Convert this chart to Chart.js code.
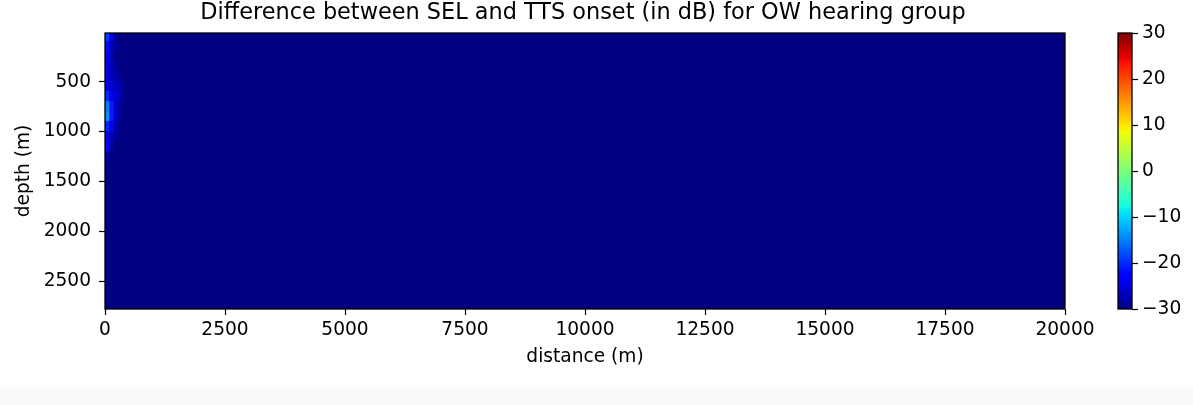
<!DOCTYPE html>
<html>
<head>
<meta charset="utf-8">
<script src="https://cdn.jsdelivr.net/npm/chart.js@4"></script>
<style>
  html, body { margin: 0; padding: 0; background: #ffffff; }
  #wrap { position: relative; width: 1193px; height: 405px; overflow: hidden; }
  #main { position: absolute; left: 0; top: 0; }
  #cbar { position: absolute; left: 1100px; top: 0; }
  #strip { position: absolute; left: 0; top: 385px; width: 1193px; height: 20px; background: #fbfaf8; }
</style>
</head>
<body>
<div id="wrap">
  <canvas id="main" width="1193" height="385"></canvas>
  <canvas id="cbar" width="93" height="385"></canvas>
  <div id="strip"></div>
</div>
<script>
// grid edges (m)
const distEdges = [0, 100, 200, 300, 400, 20000];
const depthEdges = [10, 100, 200, 300, 400, 500, 600, 700, 800, 900, 1000, 1100, 1200, 1300, 1400,
  1500, 1600, 1700, 1800, 1900, 2000, 2100, 2200, 2300, 2400, 2500, 2600, 2700, 2780];

// SEL - TTS onset (dB), one row per depth band, one column per distance band
const diffDb = [
  [-19, -24, -29, -30, -30],
  [-22, -27, -29, -30, -30],
  [-24, -27, -30, -30, -30],
  [-25, -27, -29, -30, -30],
  [-25, -27, -28, -29, -30],
  [-24, -26, -27, -28, -30],
  [-20, -24, -26, -28, -30],
  [-15, -21, -27, -29, -30],
  [-14, -21, -27, -29, -30],
  [-20, -24, -28, -30, -30],
  [-25, -27, -29, -30, -30],
  [-23, -28, -30, -30, -30],
  [-28, -30, -30, -30, -30],
  [-30, -30, -30, -30, -30],
  [-30, -30, -30, -30, -30],
  [-30, -30, -30, -30, -30],
  [-30, -30, -30, -30, -30],
  [-30, -30, -30, -30, -30],
  [-30, -30, -30, -30, -30],
  [-30, -30, -30, -30, -30],
  [-30, -30, -30, -30, -30],
  [-30, -30, -30, -30, -30],
  [-30, -30, -30, -30, -30],
  [-30, -30, -30, -30, -30],
  [-30, -30, -30, -30, -30],
  [-30, -30, -30, -30, -30],
  [-30, -30, -30, -30, -30],
  [-30, -30, -30, -30, -30]
];

const xTicks = [0, 2500, 5000, 7500, 10000, 12500, 15000, 17500, 20000];
const yTicks = [500, 1000, 1500, 2000, 2500];
const cbTicks = [-30, -20, -10, 0, 10, 20, 30];
const vmin = -30, vmax = 30;

const titleText = 'Difference between SEL and TTS onset (in dB) for OW hearing group';
const FONT = 'DejaVu Sans';

// matplotlib 'jet'
const jetR = [[0, 0], [0.35, 0], [0.66, 1], [0.89, 1], [1, 0.5]];
const jetG = [[0, 0], [0.125, 0], [0.375, 1], [0.64, 1], [0.91, 0], [1, 0]];
const jetB = [[0, 0.5], [0.11, 1], [0.34, 1], [0.65, 0], [1, 0]];

function interp(pts, t) {
  for (let i = 1; i < pts.length; i++) {
    if (t <= pts[i][0]) {
      const a = pts[i - 1], b = pts[i];
      return a[1] + (b[1] - a[1]) * (t - a[0]) / (b[0] - a[0]);
    }
  }
  return pts[pts.length - 1][1];
}

function jet(t) {
  t = Math.min(1, Math.max(0, t));
  const r = Math.round(interp(jetR, t) * 255);
  const g = Math.round(interp(jetG, t) * 255);
  const b = Math.round(interp(jetB, t) * 255);
  return 'rgb(' + r + ',' + g + ',' + b + ')';
}

function minus(v) {
  return v < 0 ? '\u2212' + Math.abs(v) : String(v);
}

const heatmapPlugin = {
  id: 'heatmap',
  beforeDatasetsDraw(chart) {
    const ctx = chart.ctx, x = chart.scales.x, y = chart.scales.y, a = chart.chartArea;
    ctx.save();
    ctx.beginPath();
    ctx.rect(a.left, a.top, a.right - a.left, a.bottom - a.top);
    ctx.clip();
    for (let i = 0; i < diffDb.length; i++) {
      const y0 = y.getPixelForValue(depthEdges[i]);
      const y1 = y.getPixelForValue(depthEdges[i + 1]);
      for (let j = 0; j < diffDb[i].length; j++) {
        const x0 = x.getPixelForValue(distEdges[j]);
        const x1 = x.getPixelForValue(distEdges[j + 1]);
        ctx.fillStyle = jet((diffDb[i][j] - vmin) / (vmax - vmin));
        ctx.fillRect(Math.floor(x0), Math.floor(Math.min(y0, y1)),
          Math.ceil(x1) - Math.floor(x0) + 1, Math.ceil(Math.abs(y1 - y0)) + 1);
      }
    }
    ctx.restore();
  },
  afterDraw(chart) {
    const ctx = chart.ctx, a = chart.chartArea;
    ctx.save();
    ctx.strokeStyle = '#000';
    ctx.lineWidth = 1.3;
    ctx.strokeRect(a.left, a.top, a.right - a.left, a.bottom - a.top);
    ctx.fillStyle = '#000';
    ctx.font = '22.4px "' + FONT + '"';
    ctx.textAlign = 'center';
    ctx.textBaseline = 'middle';
    ctx.fillText(titleText, (a.left + a.right) / 2 - 2, 13);
    ctx.restore();
  }
};

const tickFont = { family: FONT, size: 18.6 };

new Chart(document.getElementById('main'), {
  type: 'scatter',
  data: { datasets: [{ data: [], pointRadius: 0 }] },
  options: {
    responsive: false,
    animation: false,
    events: [],
    layout: { padding: { top: 33, right: 128, bottom: 0, left: 0 } },
    plugins: { legend: { display: false }, tooltip: { enabled: false } },
    scales: {
      x: {
        type: 'linear',
        min: 0,
        max: 20000,
        afterBuildTicks: s => { s.ticks = xTicks.map(v => ({ value: v })); },
        afterFit: s => { s.height = 76; },
        grid: { drawOnChartArea: false, drawTicks: true, tickLength: 6, tickColor: '#000', tickWidth: 1.2 },
        border: { display: false },
        ticks: { color: '#000', font: tickFont, padding: 4, maxRotation: 0, autoSkip: false, callback: v => String(v) },
        title: { display: true, text: 'distance (m)', color: '#000', font: tickFont, padding: { top: 0, bottom: 16.5 } }
      },
      y: {
        type: 'linear',
        reverse: true,
        min: 10,
        max: 2780,
        afterBuildTicks: s => { s.ticks = yTicks.map(v => ({ value: v })); },
        afterFit: s => { s.width = 105; },
        grid: { drawOnChartArea: false, drawTicks: true, tickLength: 6, tickColor: '#000', tickWidth: 1.2 },
        border: { display: false },
        ticks: { color: '#000', font: tickFont, padding: 8, autoSkip: false, callback: v => String(v) },
        title: { display: true, text: 'depth (m)', color: '#000', font: tickFont, padding: { top: 13.5, bottom: 0 } }
      }
    }
  },
  plugins: [heatmapPlugin]
});

const colorbarPlugin = {
  id: 'colorbar',
  beforeDatasetsDraw(chart) {
    const ctx = chart.ctx, y = chart.scales.y, a = chart.chartArea;
    const p0 = y.getPixelForValue(vmin), p1 = y.getPixelForValue(vmax);
    const grad = ctx.createLinearGradient(0, p0, 0, p1);
    const stops = [0, 0.11, 0.125, 0.34, 0.35, 0.375, 0.64, 0.65, 0.66, 0.89, 0.91, 1];
    stops.forEach(t => grad.addColorStop(t, jet(t)));
    ctx.save();
    ctx.fillStyle = grad;
    ctx.fillRect(a.left, a.top, a.right - a.left, a.bottom - a.top);
    ctx.restore();
  },
  afterDraw(chart) {
    const ctx = chart.ctx, a = chart.chartArea;
    ctx.save();
    ctx.strokeStyle = '#000';
    ctx.lineWidth = 1.3;
    ctx.strokeRect(a.left, a.top, a.right - a.left, a.bottom - a.top);
    ctx.restore();
  }
};

new Chart(document.getElementById('cbar'), {
  type: 'scatter',
  data: { datasets: [{ data: [], pointRadius: 0 }] },
  options: {
    responsive: false,
    animation: false,
    events: [],
    layout: { padding: { top: 33, right: 0, bottom: 76, left: 18 } },
    plugins: { legend: { display: false }, tooltip: { enabled: false } },
    scales: {
      x: { display: false },
      y: {
        type: 'linear',
        position: 'right',
        min: vmin,
        max: vmax,
        afterBuildTicks: s => { s.ticks = cbTicks.map(v => ({ value: v })); },
        afterFit: s => { s.width = 61; },
        grid: { drawOnChartArea: false, drawTicks: true, tickLength: 6, tickColor: '#000', tickWidth: 1.2 },
        border: { display: false },
        ticks: { color: '#000', font: tickFont, padding: 4, autoSkip: false, callback: v => minus(v) }
      }
    }
  },
  plugins: [colorbarPlugin]
});
</script>
</body>
</html>
